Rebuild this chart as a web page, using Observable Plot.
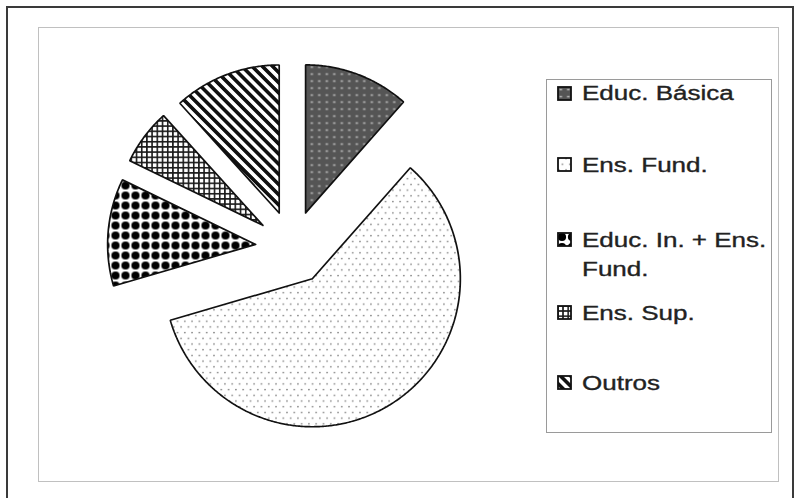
<!DOCTYPE html>
<html><head><meta charset="utf-8">
<script src="https://cdn.jsdelivr.net/npm/d3@7"></script>
<script src="https://cdn.jsdelivr.net/npm/@observablehq/plot@0.6"></script>
<style>
body{margin:0;background:#fff;}
#wrap{position:relative;width:797px;height:498px;overflow:hidden;background:#fff;font-family:"Liberation Sans",Arial,sans-serif;}
#wrap svg.plot{position:absolute;left:0;top:0;}
.frame{position:absolute;box-sizing:border-box;pointer-events:none;}
#outer{left:6px;top:6px;width:788px;height:520px;border:2px solid #3a3a3a;}
#inner{left:38px;top:27px;width:741px;height:455px;border:1.5px solid #c0c0c0;}
#legend{left:546px;top:79px;width:226px;height:354px;border:1px solid #9a9a9a;background:#fff;}
.entry{position:absolute;left:10px;font-size:20px;line-height:29px;color:#222;white-space:pre;-webkit-text-stroke:0.35px #222;}
.entry svg{position:absolute;left:0;}
.entry span{position:absolute;left:25px;top:0;display:inline-block;transform:scaleX(1.3);transform-origin:0 0;}
</style></head><body><div id="wrap"></div>
<script>
const categories = ["Educ. Básica", "Ens. Fund.", "Educ. In. + Ens. Fund.", "Ens. Sup.", "Outros"];
const shares = [11.5, 58.9, 11.7, 6.1, 11.7];
const legendLabels = ["Educ. Básica", "Ens. Fund.", "Educ. In. + Ens.\nFund.", "Ens. Sup.", "Outros"];

const W = 797, H = 498;
const cx = 292, cy = 247, R = 148, explode = 37;

const data = categories.map((name, i) => ({name, v: shares[i]}));
const arcs = d3.pie().sort(null).value(d => d.v).startAngle(0).endAngle(2 * Math.PI)(data);
const points = [];
for (const a of arcs) {
  const mid = (a.startAngle + a.endAngle) / 2;
  const ox = cx + explode * Math.sin(mid), oy = cy - explode * Math.cos(mid);
  points.push({name: a.data.name, x: ox, y: oy});
  const n = Math.max(2, Math.ceil((a.endAngle - a.startAngle) / (Math.PI / 360)));
  for (let k = 0; k <= n; k++) {
    const t = a.startAngle + (a.endAngle - a.startAngle) * k / n;
    points.push({name: a.data.name, x: ox + R * Math.sin(t), y: oy - R * Math.cos(t)});
  }
  points.push({name: a.data.name, x: ox, y: oy});
}

const patIds = categories.map((_, i) => `pat${i}`);
const patterns = `
<pattern id="pat0" patternUnits="userSpaceOnUse" width="7.5" height="7">
  <rect width="7.5" height="7" fill="#555"/>
  <rect x="2.5" y="2.8" width="2.6" height="1.6" fill="#b0b0b0"/>
</pattern>
<pattern id="pat1" patternUnits="userSpaceOnUse" width="7.3" height="11.4">
  <rect width="7.3" height="11.4" fill="#fff"/>
  <circle cx="1.8" cy="1.5" r="0.9" fill="#858585"/>
  <circle cx="5.45" cy="7.2" r="0.9" fill="#858585"/>
</pattern>
<pattern id="pat2" patternUnits="userSpaceOnUse" width="10" height="10">
  <rect width="10" height="10" fill="#fff"/>
  <circle cx="5" cy="5" r="4.1" fill="#000"/>
</pattern>
<pattern id="pat3" patternUnits="userSpaceOnUse" width="5.2" height="5.2">
  <rect width="5.2" height="5.2" fill="#fff"/>
  <rect width="5.2" height="1.6" fill="#1a1a1a"/>
  <rect width="1.6" height="5.2" fill="#1a1a1a"/>
</pattern>
<pattern id="pat4" patternUnits="userSpaceOnUse" width="7.2" height="7.2" patternTransform="rotate(-45)">
  <rect width="7.2" height="7.2" fill="#fff"/>
  <rect width="3.6" height="7.2" fill="#111"/>
</pattern>`;

const svg = Plot.plot({
  width: W, height: H,
  marginTop: 0, marginRight: 0, marginBottom: 0, marginLeft: 0,
  x: {domain: [0, W], range: [0, W], axis: null},
  y: {domain: [0, H], range: [0, H], axis: null},
  color: {type: "ordinal", domain: categories, range: patIds.map(id => `url(#${id})`)},
  style: {background: "transparent", overflow: "visible"},
  marks: [
    Plot.line(points, {x: "x", y: "y", z: "name", fill: "name", stroke: "#111", strokeWidth: 1.7, curve: "linear", strokeLinejoin: "miter"})
  ]
});
svg.classList.add("plot");
d3.select(svg).insert("defs", ":first-child").html(patterns);

const wrap = document.getElementById("wrap");
wrap.appendChild(svg);
for (const id of ["inner", "outer", "legend"]) {
  const d = document.createElement("div");
  d.className = "frame"; d.id = id;
  wrap.appendChild(d);
}
const legend = document.getElementById("legend");
const baselines = [100, 172, 247, 320, 390];
legendLabels.forEach((lab, i) => {
  const e = document.createElement("div");
  e.className = "entry";
  const top = baselines[i] - 21.4 - 79 - 1;
  e.style.top = top + "px";
  const sw = document.createElementNS("http://www.w3.org/2000/svg", "svg");
  sw.setAttribute("width", 15); sw.setAttribute("height", 15);
  sw.style.top = (21.4 - 7 - 7.5) + "px";
  sw.innerHTML = `<rect x="1" y="1" width="13" height="13" fill="url(#${patIds[i]})" stroke="#111" stroke-width="1.8"/>`;
  e.appendChild(sw);
  const s = document.createElement("span");
  s.textContent = lab;
  e.appendChild(s);
  legend.appendChild(e);
});
</script>
</body></html>
